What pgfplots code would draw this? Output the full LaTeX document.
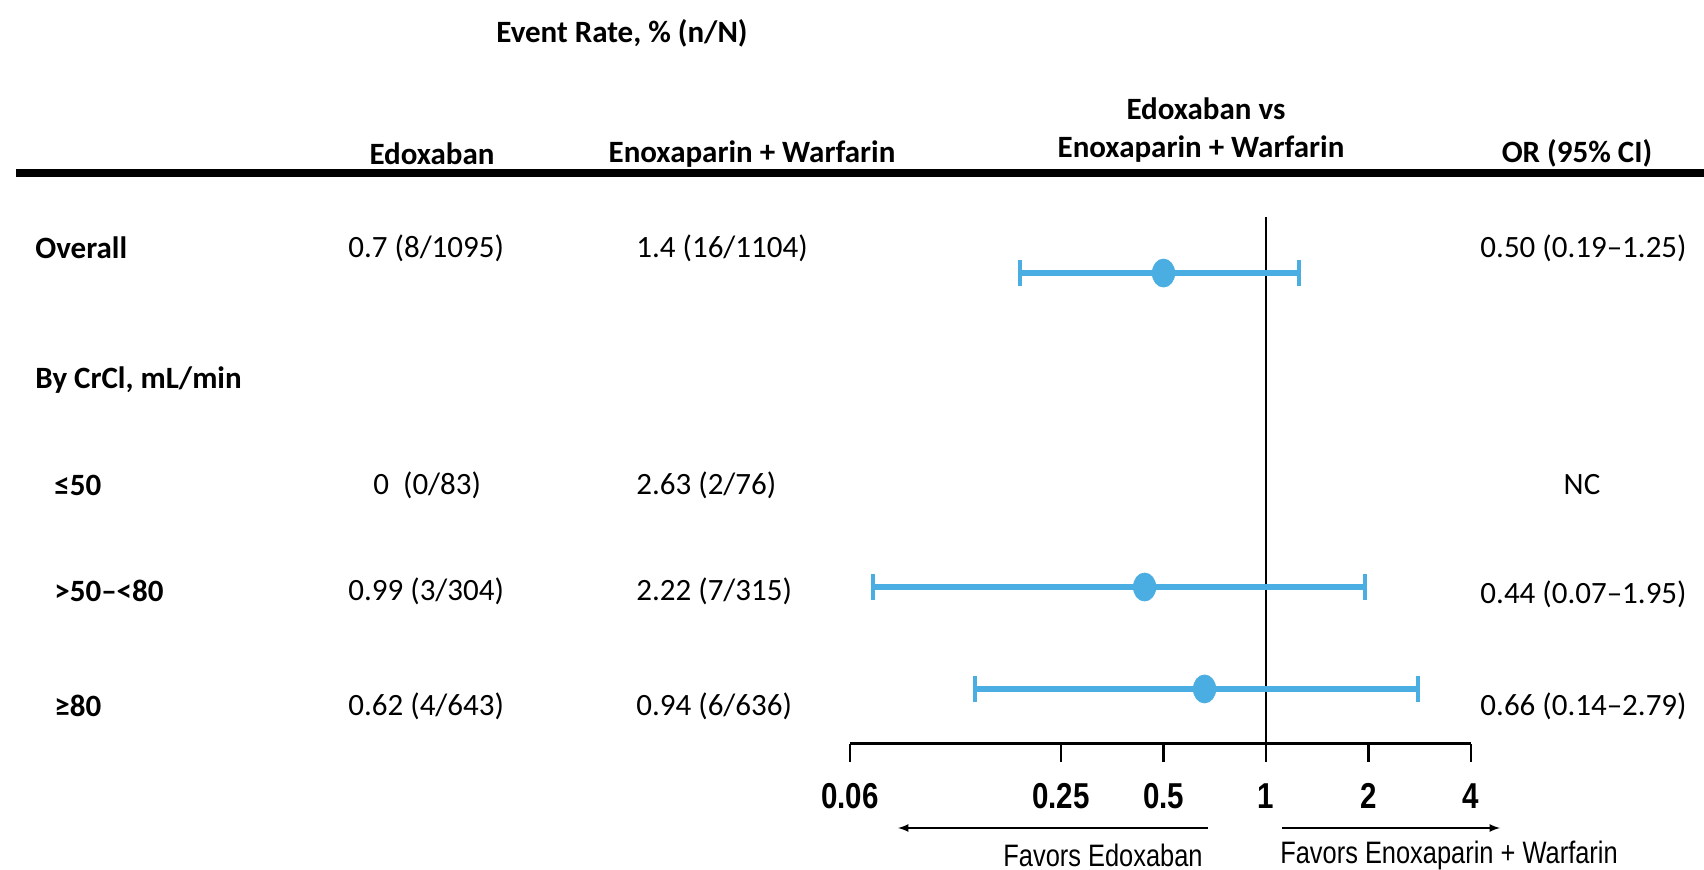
\documentclass[border=0pt]{standalone}
\usepackage{pgfplots}
\pgfplotsset{compat=1.18}
\usepackage{fontspec}
\setmainfont{Carlito}
\newfontfamily\narrowbf[FakeStretch=0.82]{Liberation Sans Bold}
\newfontfamily\narrow[FakeStretch=0.82]{Liberation Sans}
\definecolor{ciblue}{RGB}{75,174,226}
\begin{document}
\begin{tikzpicture}[x=0.5pt,y=-0.5pt]
\useasboundingbox (0,0) rectangle (1704,870);
\fontsize{15.5pt}{18pt}\selectfont
% header
\node[font=\bfseries] at (622,33) {Event Rate, \% (n/N)};
\node[font=\bfseries] at (432,154) {Edoxaban};
\node[font=\bfseries] at (752,154) {Enoxaparin + Warfarin};
\node[font=\bfseries] at (1206,109) {Edoxaban vs};
\node[font=\bfseries] at (1201,149) {Enoxaparin + Warfarin};
\node[font=\bfseries] at (1577,153) {OR (95\% CI)};
\draw[line width=4pt] (16,173) -- (1704,173);
% row labels
\node[font=\bfseries,anchor=west,inner sep=0pt] at (35,248) {Overall};
\node[font=\bfseries,anchor=west,inner sep=0pt] at (35,380) {By CrCl, mL/min};
\node[font=\bfseries,anchor=west,inner sep=0pt] at (54,485) {≤50};
\node[font=\bfseries,anchor=west,inner sep=0pt] at (54,591) {>50–<80};
\node[font=\bfseries,anchor=west,inner sep=0pt] at (54,706) {≥80};
% Edoxaban column
\node[anchor=west,inner sep=0pt] at (348,248) {0.7 (8/1095)};
\node[anchor=west,inner sep=0pt] at (373,485) {0\ \ (0/83)};
\node[anchor=west,inner sep=0pt] at (348,591) {0.99 (3/304)};
\node[anchor=west,inner sep=0pt] at (348,706) {0.62 (4/643)};
% Enoxaparin + Warfarin column
\node[anchor=west,inner sep=0pt] at (636,248) {1.4 (16/1104)};
\node[anchor=west,inner sep=0pt] at (636,485) {2.63 (2/76)};
\node[anchor=west,inner sep=0pt] at (636,591) {2.22 (7/315)};
\node[anchor=west,inner sep=0pt] at (636,706) {0.94 (6/636)};
% OR column
\node[anchor=east,inner sep=0pt] at (1687,248) {0.50 (0.19–1.25)};
\node[inner sep=0pt] at (1582,485) {NC};
\node[anchor=east,inner sep=0pt] at (1687,594) {0.44 (0.07–1.95)};
\node[anchor=east,inner sep=0pt] at (1687,706) {0.66 (0.14–2.79)};
% favors arrows
\draw[-latex,line width=0.8pt] (1208,828) -- (898,828);
\draw[-latex,line width=0.8pt] (1282,828) -- (1500,828);
\node[font=\narrow\fontsize{15.5pt}{18pt}\selectfont,inner sep=0pt] at (1103,855) {Favors Edoxaban};
\node[font=\narrow\fontsize{15.5pt}{18pt}\selectfont,inner sep=0pt] at (1449,855) {Favors Enoxaparin + Warfarin};
\begin{axis}[
  at={(425pt,-372pt)}, anchor=south west,
  scale only axis, width=310.5pt, height=263.5pt,
  xmode=log, log basis x=2,
  xmin=0.06, xmax=4, ymin=-0.54, ymax=4.63,
  axis x line*=bottom, axis y line=none,
  x axis line style={line width=1.5pt},
  xtick={0.06,0.25,0.5,1,2,4},
  xticklabels={0.06,0.25,0.5,1,2,4},
  minor xtick={},
  tick align=outside, major tick length=9pt,
  every tick/.style={black,line width=1.2pt},
  xticklabel style={font=\narrowbf\fontsize{18pt}{20pt}\selectfont, anchor=center, yshift=-17pt},
  clip=false,
]
\addplot[black, line width=1pt] coordinates {(1,-0.54) (1,4.63)};
% CI lines
\addplot[ciblue, line width=2.9pt] coordinates {(0.19,4.08) (1.25,4.08)};
\addplot[ciblue, line width=2.9pt] coordinates {(0.07,1) (1.95,1)};
\addplot[ciblue, line width=2.9pt] coordinates {(0.14,0) (2.79,0)};
% caps
\addplot[only marks, mark=|, mark size=6.5pt, mark options={ciblue, line width=2pt}]
  coordinates {(0.19,4.08) (1.25,4.08) (0.07,1) (1.95,1) (0.14,0) (2.79,0)};
% point estimates
\addplot[only marks, ciblue, mark=*, mark size=7pt, mark options={xscale=0.8, fill=ciblue, draw=ciblue}]
  coordinates {(0.50,4.08) (0.44,1) (0.66,0)};
\end{axis}
\end{tikzpicture}
\end{document}
